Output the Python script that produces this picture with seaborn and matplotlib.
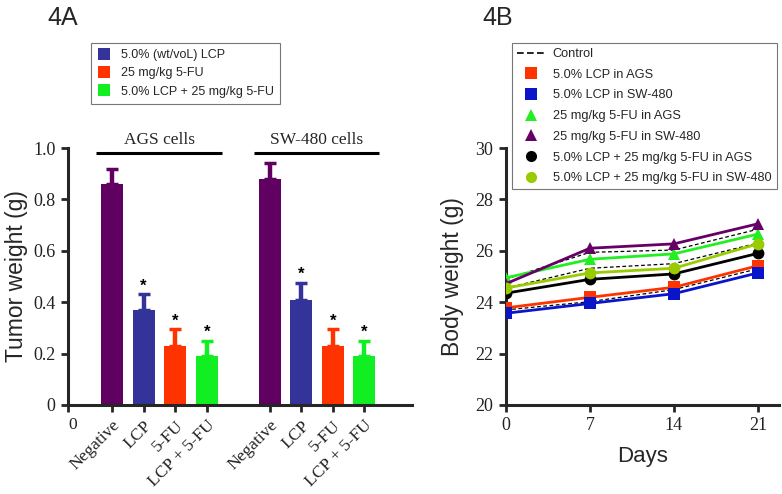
import matplotlib
matplotlib.use("Agg")
import matplotlib.pyplot as plt
from matplotlib.lines import Line2D
import seaborn as sns
import pandas as pd

# ---------------- data ----------------
groups = ["AGS cells", "SW-480 cells"]
treatments = ["Negative", "LCP", "5-FU", "LCP + 5-FU"]
ags_means = [0.86, 0.37, 0.23, 0.19]
ags_errs = [0.06, 0.06, 0.065, 0.06]
sw_means = [0.88, 0.41, 0.23, 0.19]
sw_errs = [0.06, 0.065, 0.065, 0.06]
significant = [False, True, True, True]
legend_a_labels = ["5.0% (wt/voL) LCP", "25 mg/kg 5-FU", "5.0% LCP + 25 mg/kg 5-FU"]

days = [0, 7, 14, 21]
lcp_ags = [23.78, 24.19, 24.58, 25.42]
lcp_sw = [23.57, 23.95, 24.33, 25.14]
fu_ags = [24.95, 25.67, 25.88, 26.65]
fu_sw = [24.72, 26.1, 26.27, 27.05]
combo_ags = [24.35, 24.89, 25.10, 25.90]
combo_sw = [24.55, 25.14, 25.32, 26.27]
control_1 = [24.90, 25.94, 26.03, 26.84]
control_2 = [24.55, 25.32, 25.50, 26.30]
control_3 = [23.70, 24.02, 24.49, 25.30]
series_b_labels = ["5.0% LCP in AGS", "5.0% LCP in SW-480", "25 mg/kg 5-FU in AGS",
                   "25 mg/kg 5-FU in SW-480", "5.0% LCP + 25 mg/kg 5-FU in AGS",
                   "5.0% LCP + 25 mg/kg 5-FU in SW-480"]

# ---------------- style ----------------
sns.set_style("ticks")
plt.rcParams["font.family"] = ["Liberation Sans", "DejaVu Sans"]
SERIF = ["Liberation Serif", "DejaVu Serif"]

bar_colors = {"Negative": "#600060", "LCP": "#333399", "5-FU": "#FF3300", "LCP + 5-FU": "#11EE22"}
line_colors = ["#FF3300", "#0A14C8", "#22EE22", "#660066", "#000000", "#99CC00"]
line_markers = ["s", "s", "^", "^", "o", "o"]

fig = plt.figure(figsize=(7.82, 4.94), dpi=100)

# ================= Panel A =================
axA = fig.add_axes([0.0870, 0.1802, 0.4400, 0.5202])
rows = []
order = []
for gi, (g, means, errs) in enumerate([(groups[0], ags_means, ags_errs), (groups[1], sw_means, sw_errs)]):
    if gi > 0:
        order.append("gap")
    for t, m, e in zip(treatments, means, errs):
        key = f"{g}|{t}"
        order.append(key)
        rows.append({"key": key, "group": g, "treatment": t, "weight": m, "err": e})
dfA = pd.DataFrame(rows)
palette = {r["key"]: bar_colors[r["treatment"]] for r in rows}
palette["gap"] = "white"
sns.barplot(data=dfA, x="key", y="weight", hue="key", order=order, hue_order=order,
            palette=palette, width=0.7, legend=False, ax=axA, saturation=1, linewidth=0)

for _, r in dfA.iterrows():
    pos = order.index(r["key"])
    col = bar_colors[r["treatment"]]
    axA.errorbar(pos, r["weight"], yerr=[[0], [r["err"]]], fmt="none", ecolor=col,
                 elinewidth=3.2, capsize=4.5, capthick=2.5, clip_on=False, zorder=3)
    if significant[treatments.index(r["treatment"])]:
        axA.text(pos, r["weight"] + r["err"] + 0.003, "*", ha="center", va="bottom",
                 fontsize=12, fontweight="bold", color="black")

# group brackets
for g in groups:
    idx = [order.index(k) for k in dfA.loc[dfA["group"] == g, "key"]]
    x0, x1 = min(idx) - 0.5, max(idx) + 0.48
    axA.plot([x0, x1], [0.98, 0.98], color="black", lw=2.2, clip_on=False, solid_capstyle="butt")
    axA.text((x0 + x1) / 2, 1.0, g, ha="center", va="bottom", fontsize=12.5, family=SERIF)

axA.set_xlim(-1.4, 9.52)
axA.set_ylim(0, 1.0)
axA.set_yticks([0, 0.2, 0.4, 0.6, 0.8, 1.0])
axA.set_yticklabels(["0", "0.2", "0.4", "0.6", "0.8", "1.0"], family=SERIF, fontsize=13, color="#222222")
tick_pos = [-1.4] + [order.index(k) for k in dfA["key"]]
tick_lab = ["0"] + list(dfA["treatment"])
axA.set_xticks(tick_pos)
axA.set_xticklabels(tick_lab, family=SERIF, fontsize=12.5, color="#222222")
for i, lab in enumerate(axA.get_xticklabels()):
    if i == 0:
        lab.set_rotation(0)
        lab.set_ha("left")
    else:
        lab.set_rotation(45)
        lab.set_ha("right")
        lab.set_va("top")
        lab.set_rotation_mode("anchor")
axA.set_xlabel("")
axA.set_ylabel("Tumor weight (g)", fontsize=16.5, labelpad=4)
sns.despine(ax=axA)
for s in ["left", "bottom"]:
    axA.spines[s].set_linewidth(2.2)
axA.tick_params(width=2, length=5, direction="out", pad=4)

handlesA = [Line2D([], [], marker="s", ls="none", markersize=8, color=bar_colors[t],
                   markeredgewidth=0) for t in treatments[1:]]
legA = fig.legend(handlesA, legend_a_labels, loc="upper left", bbox_to_anchor=(0.1164, 0.913),
                  borderaxespad=0, frameon=True, fancybox=False, edgecolor="#555555", fontsize=9,
                  handlelength=1.0, handletextpad=0.9, labelspacing=0.5, borderpad=0.5)
legA.get_frame().set_linewidth(0.8)

fig.text(0.061, 0.988, "4A", fontsize=18, va="top", ha="left")

# ================= Panel B =================
axB = fig.add_axes([0.6470, 0.1802, 0.3490, 0.5202])
for ctrl in [control_1, control_2, control_3]:
    sns.lineplot(x=days, y=ctrl, ax=axB, color="black", lw=0.9, linestyle=(0, (3, 2)), zorder=2)
series = [lcp_ags, lcp_sw, fu_ags, fu_sw, combo_ags, combo_sw]
for vals, col, mk in zip(series, line_colors, line_markers):
    ms = 9 if mk == "s" else 8.5
    sns.lineplot(x=days, y=vals, ax=axB, color=col, lw=2, marker=mk, markersize=ms,
                 markeredgewidth=0, zorder=3)

axB.set_xlim(0, 22.75)
axB.set_ylim(20, 30)
axB.set_xticks(days)
axB.set_xticklabels([str(d) for d in days], family=SERIF, fontsize=13, color="#222222")
axB.set_yticks([20, 22, 24, 26, 28, 30])
axB.set_yticklabels(["20", "22", "24", "26", "28", "30"], family=SERIF, fontsize=13, color="#222222")
axB.set_xlabel("Days", fontsize=16, labelpad=8)
axB.set_ylabel("Body weight (g)", fontsize=16.5, labelpad=8)
sns.despine(ax=axB)
for s in ["left", "bottom"]:
    axB.spines[s].set_linewidth(2.2)
axB.tick_params(width=2, length=5, direction="out", pad=4)

handlesB = [Line2D([], [], color="black", lw=1.2, ls=(0, (4, 2)))]
for col, mk in zip(line_colors, line_markers):
    handlesB.append(Line2D([], [], color=col, marker=mk, ls="none", markersize=8, markeredgewidth=0))
legB = fig.legend(handlesB, ["Control"] + series_b_labels, loc="upper left",
                  bbox_to_anchor=(0.6547, 0.913), borderaxespad=0, frameon=True, fancybox=False,
                  edgecolor="#555555", fontsize=9.2, handlelength=2.2, handletextpad=0.6,
                  labelspacing=0.68, borderpad=0.4)
legB.get_frame().set_linewidth(0.8)

fig.text(0.617, 0.988, "4B", fontsize=18, va="top", ha="left")

fig.savefig("out.png", dpi=100)
